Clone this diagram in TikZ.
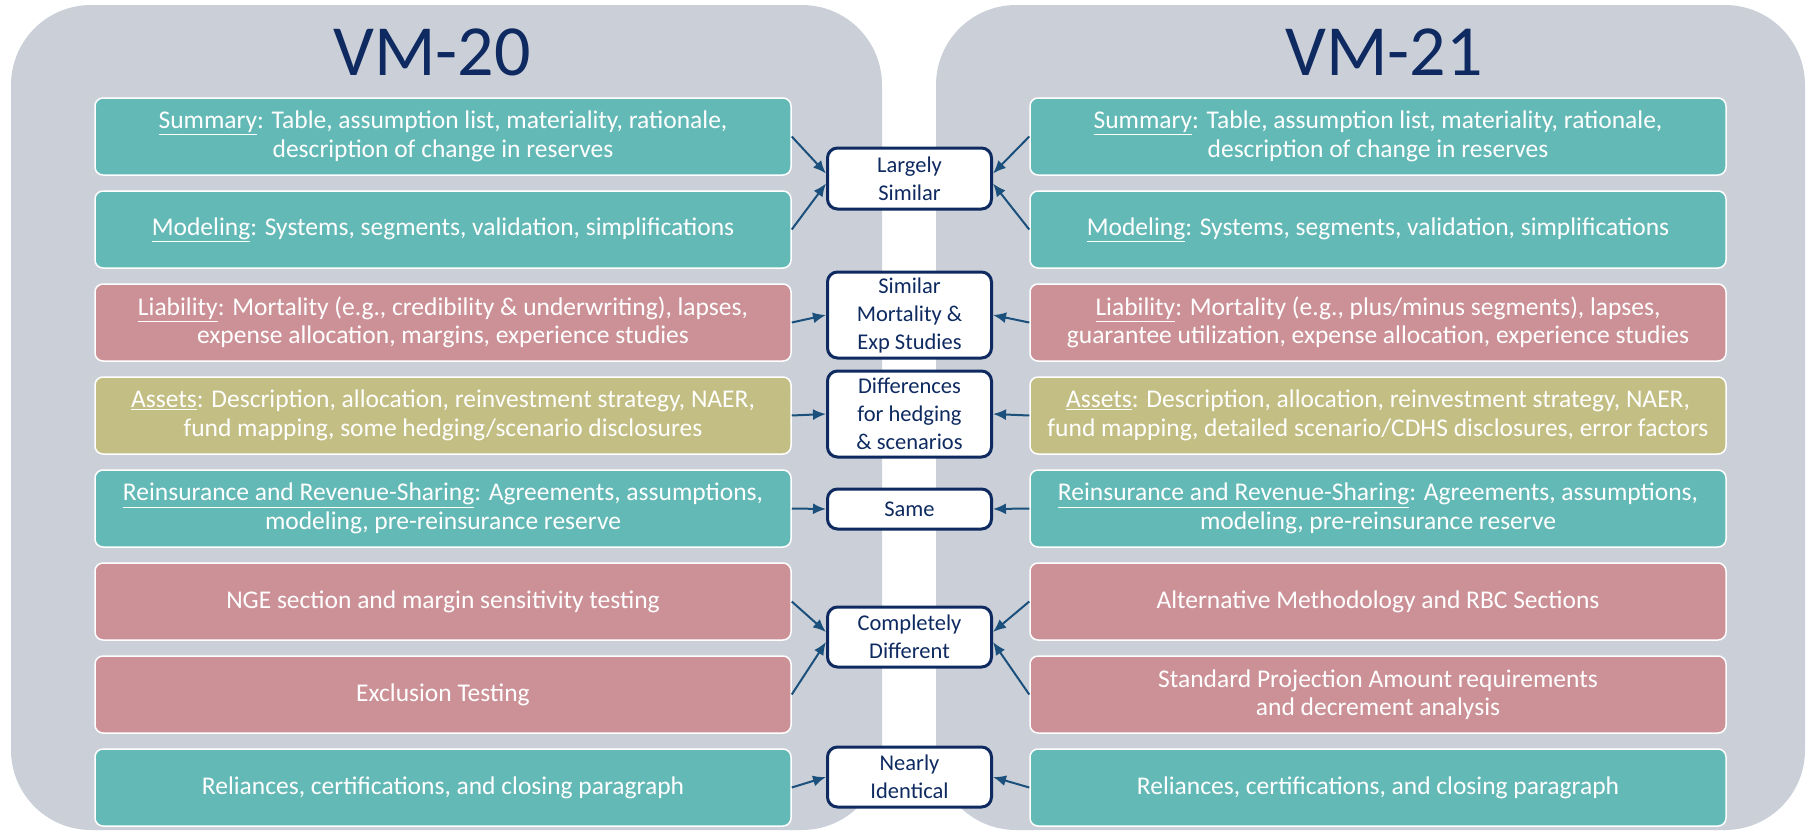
\documentclass[tikz,border=0pt]{standalone}
\usepackage{fontspec}
\setmainfont{Carlito}
\usetikzlibrary{arrows.meta,positioning}

\definecolor{panelgray}{HTML}{CBD0D8}
\definecolor{tealbox}{HTML}{63B9B6}
\definecolor{rosebox}{HTML}{CC9197}
\definecolor{olivebox}{HTML}{C3BE83}
\definecolor{navy}{HTML}{0E2A60}
\definecolor{arrowblue}{HTML}{1B4F7C}

\tikzset{
  panel/.style={fill=panelgray, draw=none, rounded corners=80pt},
  vmtitle/.style={text=navy, font=\fontsize{72}{80}\selectfont},
  topic/.style={draw=white, line width=1.5pt, rounded corners=8pt, minimum width=696pt,
    minimum height=77pt, inner sep=0pt, align=center, text=white,
    font=\fontsize{25.5}{28.5}\selectfont},
  verdict/.style={draw=navy, fill=white, line width=3pt, rounded corners=10pt,
    minimum width=164pt, inner sep=0pt, align=center, text=navy,
    font=\fontsize{22.5}{28}\selectfont},
  arr/.style={draw=arrowblue, line width=2pt, -{Latex[length=13pt,width=11pt]}}
}

\begin{document}
\begin{tikzpicture}[x=1pt, y=-1pt, node distance = 14.5pt]
  \useasboundingbox (0,0) rectangle (1808,831);
  % the two grey panels
  \fill[panel] (11,5) rectangle (882,830);
  \fill[panel] (936,5) rectangle (1805,830);
  \node (t20) [vmtitle] at (432,52) {VM-20};
  \node (t21) [vmtitle] at (1384,52) {VM-21};

  % VM-20 side
  \node (s20) [topic, fill=tealbox] at (443,136.5) {\underline{Summary}: Table, assumption list, materiality, rationale,\\ description of change in reserves};
  \node (m20) [topic, fill=tealbox, below=of s20] {\underline{Modeling}: Systems, segments, validation, simplifications};
  \node (l20) [topic, fill=rosebox, below=of m20] {\underline{Liability}: Mortality (e.g., credibility \& underwriting), lapses,\\ expense allocation, margins, experience studies};
  \node (a20) [topic, fill=olivebox, below=of l20] {\underline{Assets}: Description, allocation, reinvestment strategy, NAER,\\ fund mapping, some hedging/scenario disclosures};
  \node (r20) [topic, fill=tealbox, below=of a20] {\underline{Reinsurance and Revenue-Sharing}: Agreements, assumptions,\\ modeling, pre-reinsurance reserve};
  \node (n20) [topic, fill=rosebox, below=of r20] {NGE section and margin sensitivity testing};
  \node (e20) [topic, fill=rosebox, below=of n20] {Exclusion Testing};
  \node (c20) [topic, fill=tealbox, below=of e20] {Reliances, certifications, and closing paragraph};

  % VM-21 side
  \node (s21) [topic, fill=tealbox] at (1378,136.5) {\underline{Summary}: Table, assumption list, materiality, rationale,\\ description of change in reserves};
  \node (m21) [topic, fill=tealbox, below=of s21] {\underline{Modeling}: Systems, segments, validation, simplifications};
  \node (l21) [topic, fill=rosebox, below=of m21] {\underline{Liability}: Mortality (e.g., plus/minus segments), lapses,\\ guarantee utilization, expense allocation, experience studies};
  \node (a21) [topic, fill=olivebox, below=of l21] {\underline{Assets}: Description, allocation, reinvestment strategy, NAER,\\ fund mapping, detailed scenario/CDHS disclosures, error factors};
  \node (r21) [topic, fill=tealbox, below=of a21] {\underline{Reinsurance and Revenue-Sharing}: Agreements, assumptions,\\ modeling, pre-reinsurance reserve};
  \node (n21) [topic, fill=rosebox, below=of r21] {Alternative Methodology and RBC Sections};
  \node (e21) [topic, fill=rosebox, below=of n21] {Standard Projection Amount requirements\\ and decrement analysis};
  \node (c21) [topic, fill=tealbox, below=of e21] {Reliances, certifications, and closing paragraph};

  % verdicts in the middle
  \node (ls) [verdict, minimum height=61pt] at (909.5,178.5) {Largely\\ Similar};
  \node (sm) [verdict, minimum height=86pt] at (909.5,315) {Similar\\ Mortality \&\\ Exp Studies};
  \node (dh) [verdict, minimum height=86pt] at (909.5,414) {Differences\\ for hedging\\ \& scenarios};
  \node (sa) [verdict, minimum height=40pt] at (909.5,509) {Same};
  \node (cd) [verdict, minimum height=60pt] at (909.5,637) {Completely\\ Different};
  \node (ni) [verdict, minimum height=60pt] at (909.5,777) {Nearly\\ Identical};

  \draw[arr] (s20.east) -- ([yshift=5pt]ls.west);
  \draw[arr] (m20.east) -- ([yshift=-5pt]ls.west);
  \draw[arr] (s21.west) -- ([yshift=5pt]ls.east);
  \draw[arr] (m21.west) -- ([yshift=-5pt]ls.east);
  \draw[arr] (l20.east) -- (sm.west);
  \draw[arr] (l21.west) -- (sm.east);
  \draw[arr] (a20.east) -- (dh.west);
  \draw[arr] (a21.west) -- (dh.east);
  \draw[arr] (r20.east) -- (sa.west);
  \draw[arr] (r21.west) -- (sa.east);
  \draw[arr] (n20.east) -- ([yshift=5pt]cd.west);
  \draw[arr] (e20.east) -- ([yshift=-5pt]cd.west);
  \draw[arr] (n21.west) -- ([yshift=5pt]cd.east);
  \draw[arr] (e21.west) -- ([yshift=-5pt]cd.east);
  \draw[arr] (c20.east) -- (ni.west);
  \draw[arr] (c21.west) -- (ni.east);
\end{tikzpicture}
\end{document}
